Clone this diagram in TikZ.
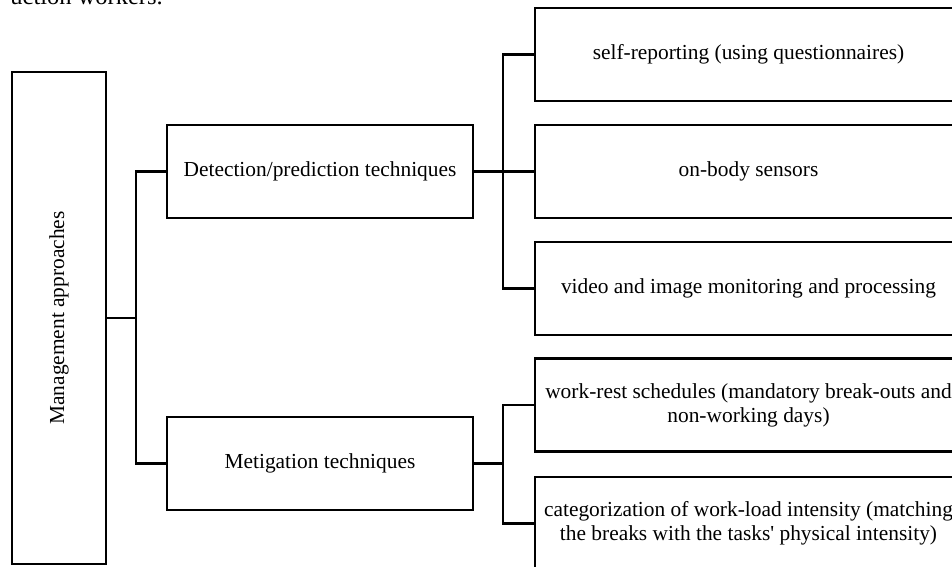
\documentclass[tikz,border=0pt]{standalone}
\usepackage{fontspec}
\setmainfont{Liberation Serif}
\usetikzlibrary{positioning}

\begin{document}
\begin{tikzpicture}[x=1pt,y=-1pt,line width=2.4pt,
  box/.style={draw,rectangle,inner sep=0pt,align=center,minimum height=93pt,font=\fontsize{21.4}{24}\selectfont},
  leafbox/.style={box,minimum width=427pt}]
  \clip (0,0) rectangle (952,566);
  \node[anchor=base east,inner sep=0pt,font=\fontsize{24.5}{28}\selectfont] (frag) at (164,4) {uction workers.};
  \node[box,minimum width=94pt,minimum height=492pt] (mgmt) at (59,318) {\rotatebox{90}{Management approaches}};
  \node[box,minimum width=306pt] (detect) at (320,171.5) {Detection/prediction techniques};
  \node[box,minimum width=306pt] (metig) at (320,463.5) {Metigation techniques};
  \node[leafbox] (self) at (748.5,54.5) {self-reporting (using questionnaires)};
  \node[leafbox] (body) at (748.5,171.5) {on-body sensors};
  \node[leafbox] (video) at (748.5,288.5) {video and image monitoring and processing};
  \node[leafbox] (rest) at (748.5,405) {work-rest schedules (mandatory break-outs and\\non-working days)};
  \node[leafbox] (load) at (748.5,523.5) {categorization of work-load intensity (matching\\the breaks with the tasks\textquotesingle\ physical intensity)};
  \coordinate (mj) at (136,318); \coordinate (dj) at (503,171.5); \coordinate (tj) at (503,463.5);
  \draw (mgmt.east) -- (mj); \draw (detect.west) -| (mj) |- (metig.west);
  \draw (detect.east) -- (dj); \draw (self.west) -| (dj) |- (video.west); \draw (dj) -- (body.west);
  \draw (metig.east) -- (tj); \draw (rest.west) -| (tj) |- (load.west);
\end{tikzpicture}
\end{document}
